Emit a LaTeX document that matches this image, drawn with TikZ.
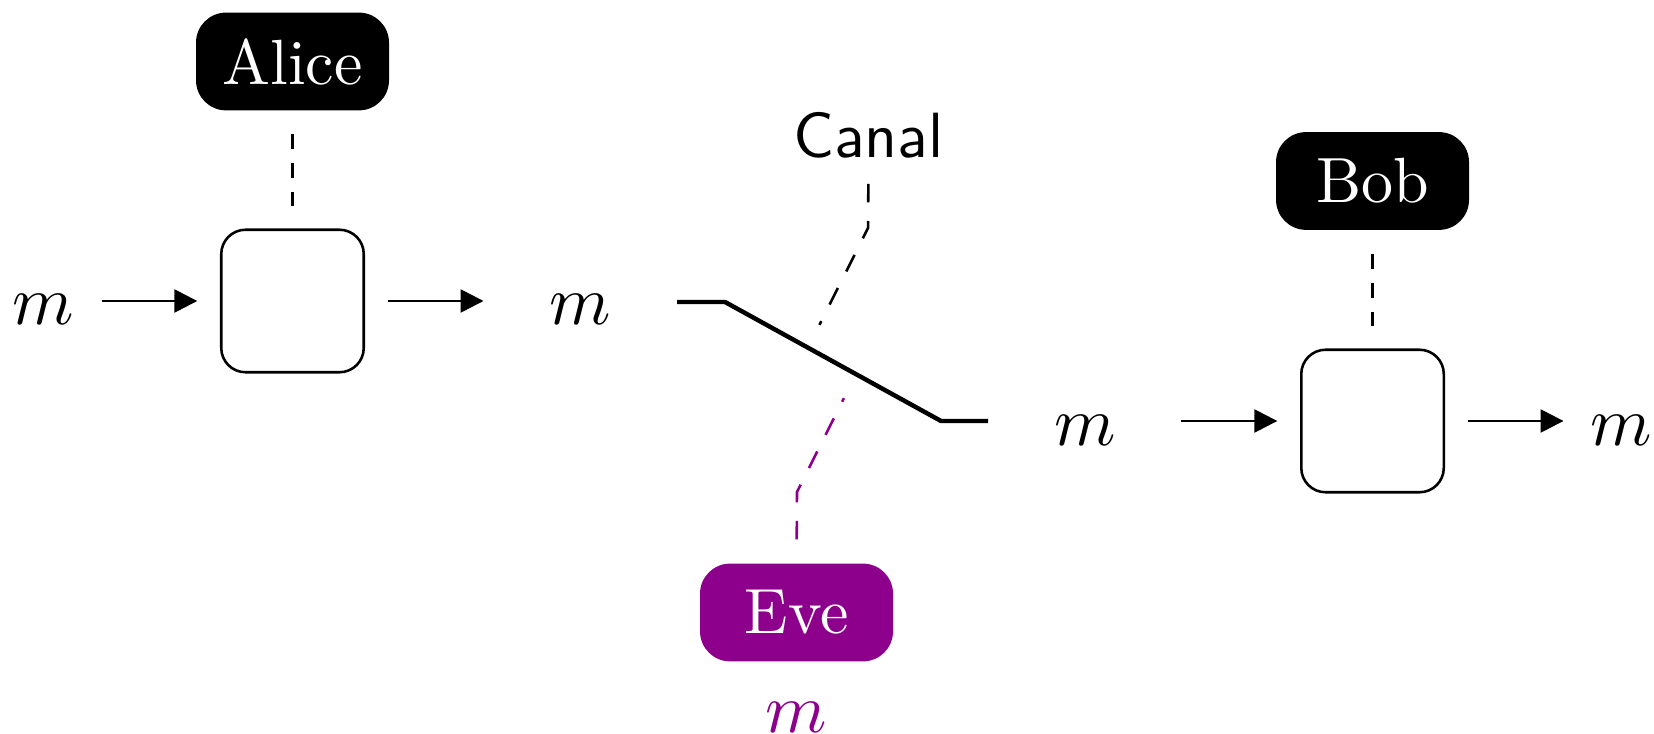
\documentclass[tikz,border=0pt]{standalone}
\usetikzlibrary{arrows.meta,calc}
\definecolor{evecol}{RGB}{140,0,140}
\tikzset{
  party/.style={fill=black, text=white, rounded corners=4.7pt,
    minimum width=30.2pt, minimum height=15.3pt, inner sep=0pt},
  procbox/.style={draw, line width=0.4pt, rounded corners=3.8pt,
    minimum width=22.3pt, minimum height=22.3pt, inner sep=0pt},
  flow/.style={-{Triangle[length=3.6pt,width=3.6pt]}, line width=0.4pt},
  link/.style={line width=0.4pt, dash pattern=on 2.35pt off 2.2pt},
  wire/.style={line width=0.4pt, dash pattern=on 2.9pt off 2.9pt},
  chan/.style={line width=0.7pt},
  msg/.style={anchor=base, inner sep=0pt, font=\fontsize{11.2pt}{13pt}\selectfont},
}
\begin{document}
\begin{tikzpicture}[x=0.1565pt, y=-0.1565pt]
\useasboundingbox (0,0) rectangle (1654,733);

% sender side
\node[party] (alice) at (292.5,61.5) {Alice};
\node[procbox] (enc) at (292.5,301) {};
\node[msg] (m1) at (43.5,325) {$m$};
\node[msg] (m2) at (580.5,325) {$m$};

% receiver side
\node[party] (bob) at (1372.5,181) {Bob};
\node[procbox] (dec) at (1372.5,421) {};
\node[msg] (m3) at (1085,445) {$m$};
\node[msg] (m4) at (1621.5,445) {$m$};

% eavesdropper
\node[party, fill=evecol] (eve) at (796.5,612.5) {Eve};
\node[msg, text=evecol] (m5) at (796.5,732.5) {$m$};

% channel
\node[anchor=base, inner sep=0pt, font=\sffamily] (canal) at (868.5,158) {Canal};
\coordinate (sw1) at (677,302);
\coordinate (sw2) at (725,302);
\coordinate (sw3) at (941,421);
\coordinate (sw4) at (988,421);
\draw[chan] (sw1) -- (sw2) -- (sw3) -- (sw4);
\coordinate (ctap) at ($(sw2)!0.384!(sw3)$);
\coordinate (etap) at ($(sw2)!0.606!(sw3)$);
\coordinate (cbend) at (868,228);
\coordinate (ebend) at (797,492);

% message flow
\draw[flow, shorten <=4.07pt, shorten >=3.55pt] (m1.east |- enc.west) -- (enc.west);
\draw[flow, shorten <=3.55pt, shorten >=10.17pt] (enc.east) -- (enc.east -| m2.west);
\draw[flow, shorten <=10.07pt, shorten >=3.55pt] (m3.east |- dec.west) -- (dec.west);
\draw[flow, shorten <=3.55pt, shorten >=4.07pt] (dec.east) -- (dec.east -| m4.west);

% dashed attachments
\draw[link, shorten <=3.5pt, shorten >=3.5pt] (alice.south) -- (enc.north);
\draw[link, shorten <=3.5pt, shorten >=3.5pt] (bob.south) -- (dec.north);
\draw[wire, shorten <=3.75pt, shorten >=4pt] (canal.south) -- (cbend) -- (ctap);
\draw[wire, evecol, shorten <=3.6pt, shorten >=4.2pt] (eve.north) -- (ebend) -- (etap);
\end{tikzpicture}
\end{document}
